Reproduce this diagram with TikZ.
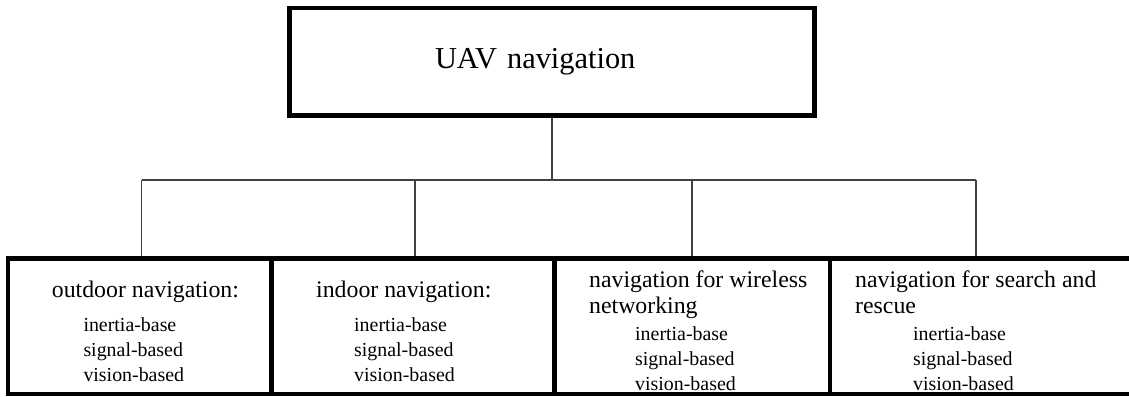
\documentclass[tikz,border=0pt]{standalone}
\usepackage{fontspec}
\setmainfont{Liberation Serif}
\usetikzlibrary{positioning}

\begin{document}
\begin{tikzpicture}[
    x=1pt, y=-1pt,
    topbox/.style={draw, line width=4.5pt, minimum width=525pt,
                   minimum height=107.5pt, inner xsep=145.5pt, text width=234pt,
                   align=left, font=\fontsize{30.4}{34}\selectfont},
    navbox/.style={draw, line width=4.5pt, inner sep=0pt, minimum height=135.3pt},
    head/.style={anchor=base west, inner sep=0pt, align=left,
                 font=\fontsize{23.8}{26.7}\selectfont},
    items/.style={anchor=base west, inner sep=0pt, align=left,
                  font=\fontsize{19.9}{25}\selectfont},
    conn/.style={line width=1.3pt, draw=black!75}
  ]
  \useasboundingbox (0,0) rectangle (1129,396);

  % Root
  \node[topbox] (uav) at (552,61.75) {UAV navigation};

  % Categories (base anchor = last line)
  \node[navbox, minimum width=263.5pt] (outdoor)  at (139.75,326.35) {};
  \node[navbox, minimum width=283pt]   (indoor)   at (413,326.35) {};
  \node[navbox, minimum width=275.5pt] (wireless) at (692.25,326.35) {};
  \node[navbox, minimum width=304pt]   (rescue)   at (982,326.35) {};

  \node[head]  (outdoorhead)  at (51.7,297) {outdoor navigation:};
  \node[items] (outdooritems) at (83.3,381) {inertia-base\\signal-based\\vision-based};

  \node[head]  (indoorhead)  at (316,297) {indoor navigation:};
  \node[items] (indooritems) at (354,381) {inertia-base\\signal-based\\vision-based};

  \node[head]  (wirelesshead)  at (589,313.7) {navigation for wireless\\networking};
  \node[items] (wirelessitems) at (635,390.5) {inertia-base\\signal-based\\vision-based};

  \node[head]  (rescuehead)  at (855,313.7) {navigation for search and\\rescue};
  \node[items] (rescueitems) at (913,390.5) {inertia-base\\signal-based\\vision-based};

  % Tree lines
  \coordinate (bus1) at (141.7,180);
  \coordinate (bus2) at (415,180);
  \coordinate (bus3) at (692,180);
  \coordinate (bus4) at (976,180);
  \coordinate (hub) at (uav.south |- bus1);

  \draw[conn] (uav.south) -- (hub);
  \draw[conn] (bus1) -- (bus4);
  \draw[conn] (bus1) -- (bus1 |- outdoor.north);
  \draw[conn] (bus2) -- (bus2 |- indoor.north);
  \draw[conn] (bus3) -- (bus3 |- wireless.north);
  \draw[conn] (bus4) -- (bus4 |- rescue.north);
\end{tikzpicture}
\end{document}
